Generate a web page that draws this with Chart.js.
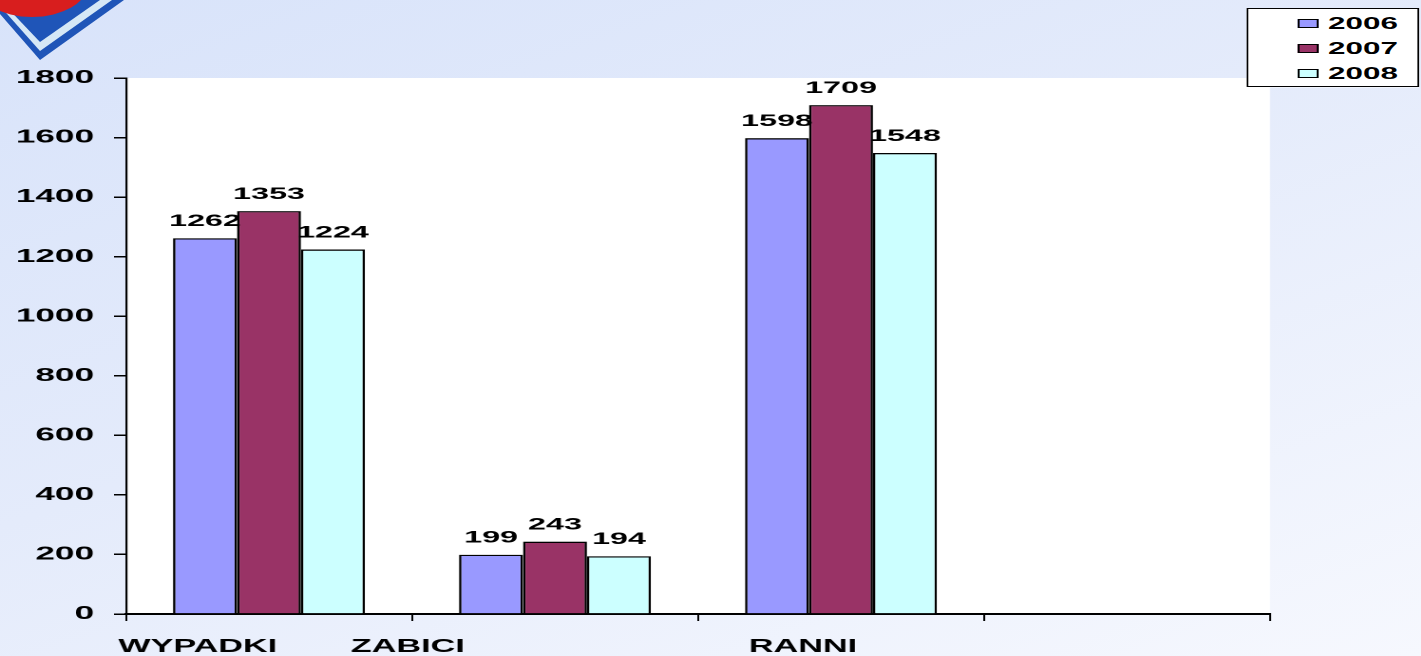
<!DOCTYPE html>
<html>
<head>
<meta charset="utf-8">
<script src="https://cdn.jsdelivr.net/npm/chart.js@4/dist/chart.umd.min.js"></script>
<style>
html,body{margin:0;padding:0;overflow:hidden;}
body{width:1421px;height:656px;background:linear-gradient(160deg,#d8e3fa 0%,#e4ebfb 45%,#f6f8fe 100%);position:relative;font-family:"Liberation Sans",Arial,sans-serif;}
#logo{position:absolute;left:0;top:0;}
/* le graphique d'origine est etire en largeur, on garde ce rapport */
#wrap{position:absolute;left:0;top:0;width:748px;height:656px;transform:scaleX(1.9);transform-origin:0 0;}
#legende{position:absolute;left:656px;top:8px;width:91px;height:79px;box-sizing:border-box;border:1px solid #000;background:#fff;padding-top:2px;}
#legende div{height:25px;line-height:25px;font-weight:bold;font-size:16.5px;color:#000;position:relative;padding-left:42px;}
#legende span{position:absolute;left:26px;top:8px;width:10.5px;height:9px;border:1px solid #000;box-sizing:border-box;}
</style>
</head>
<body>
<svg id="logo" width="130" height="64">
  <polygon points="0,0 0,14 40,60 124,0" fill="#1f55b8"/>
  <polygon points="0,0 0,6 40,51 112,0" fill="#d6e8f6"/>
  <polygon points="0,0 40,42 100,0" fill="#1f55b8"/>
  <ellipse cx="32" cy="-16" rx="56" ry="33" fill="#d81e1e"/>
</svg>
<div id="wrap">
  <canvas id="canvas" width="748" height="656"></canvas>
  <div id="legende"></div>
</div>
<script>
// donnees du graphique
var categories=["WYPADKI","ZABICI","RANNI",""]
var annees=["2006","2007","2008"]
var v2006=[1262,199,1598,null]
var v2007=[1353,243,1709,null]
var v2008=[1224,194,1548,null]
var yTicks=[0,200,400,600,800,1000,1200,1400,1600,1800]

var couleurs=["#9999ff","#993366","#ccffff"]
var decalage=[15,31,8] // espaces pour decaler les etiquettes comme sur la diapo

var policeBold=function(t){return {family:"'Liberation Sans', Arial, sans-serif",weight:"bold",size:t}}

// fond blanc de la zone du graph
var fondBlanc={
  id:"fondBlanc",
  beforeDraw:function(chart){
    var a=chart.chartArea, ctx=chart.ctx
    ctx.save()
    ctx.fillStyle="#ffffff"
    ctx.fillRect(a.left,a.top,a.right-a.left,a.bottom-a.top)
    ctx.restore()
  }
}

// valeurs au dessus des barres
var valeurs={
  id:"valeurs",
  afterDatasetsDraw:function(chart){
    var ctx=chart.ctx
    ctx.save()
    ctx.font="bold 17px 'Liberation Sans', Arial, sans-serif"
    ctx.fillStyle="#000"
    ctx.textAlign="center"
    ctx.textBaseline="alphabetic"
    chart.data.datasets.forEach(function(ds,i){
      chart.getDatasetMeta(i).data.forEach(function(bar,j){
        if(ds.data[j]==null) return
        ctx.fillText(String(ds.data[j]),bar.x,bar.y-12)
      })
    })
    ctx.restore()
  }
}

var series=[v2006,v2007,v2008]
var datasets=[]
for(var i=0;i<series.length;i++){
  datasets.push({
    label:annees[i],
    data:series[i],
    backgroundColor:couleurs[i],
    borderColor:"#000",
    borderWidth:1.3,
    categoryPercentage:0.671,
    barPercentage:1.0
  })
}

var chart=new Chart(document.getElementById("canvas"),{
  type:"bar",
  data:{labels:categories,datasets:datasets},
  options:{
    responsive:false,
    animation:false,
    devicePixelRatio:2,
    layout:{padding:{left:0,right:79.6,top:78,bottom:0}},
    plugins:{legend:{display:false},tooltip:{enabled:false}},
    scales:{
      x:{
        afterFit:function(s){s.height=42},
        grid:{offset:true,drawOnChartArea:false,drawTicks:true,tickLength:7,color:"#000",lineWidth:1},
        border:{display:true,color:"#000",width:2},
        ticks:{
          autoSkip:false,maxRotation:0,minRotation:0,padding:15,color:"#000",font:policeBold(18),
          callback:function(v,i){return categories[i]+(decalage[i]?" ".repeat(decalage[i]):"")}
        }
      },
      y:{
        min:0,max:1800,
        afterFit:function(s){s.width=66.3},
        afterBuildTicks:function(s){s.ticks=yTicks.map(function(v){return {value:v}})},
        grid:{drawOnChartArea:false,drawTicks:true,tickLength:6.3,color:"#000",lineWidth:1.5},
        border:{display:true,color:"#000",width:1.1},
        ticks:{padding:10.5,color:"#000",font:policeBold(18.5),callback:function(v){return String(v)}}
      }
    }
  },
  plugins:[fondBlanc,valeurs]
})

// legende a droite en haut
var leg=document.getElementById("legende")
for(var i=0;i<annees.length;i++){
  var d=document.createElement("div")
  var sw=document.createElement("span")
  sw.style.background=couleurs[i]
  d.appendChild(sw)
  d.appendChild(document.createTextNode(annees[i]))
  leg.appendChild(d)
}
</script>
</body>
</html>
